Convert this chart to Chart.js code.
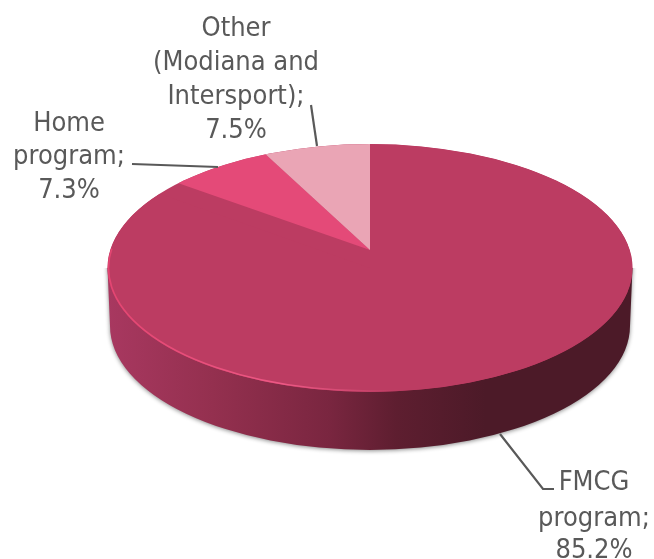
<!DOCTYPE html>
<html><head><meta charset="utf-8">
<style>html,body{margin:0;padding:0;background:#fff;overflow:hidden}canvas{display:block}</style>
<script src="https://cdn.jsdelivr.net/npm/chart.js@4/dist/chart.umd.min.js"></script>
</head><body>
<canvas id="c" width="654" height="559"></canvas>
<script>
const categories = ["FMCG program", "Home program", "Other (Modiana and Intersport)"];
const shares = [85.2, 7.3, 7.5];
const sliceColors = ["#BC3C62", "#E44A78", "#EAA5B5"];
const labelLines = [
  ["FMCG", "program;", "85.2%"],
  ["Home", "program;", "7.3%"],
  ["Other", "(Modiana and", "Intersport);", "7.5%"]
];
const topFace = {x:370, y:268, rx:262.5, ry:124};
const baseFace = {x:370, y:326, rx:260, ry:124};
const apexFace = {x:370, y:250, rx:272, ry:127};
const labelLayout = [
  {x:594, ys:[490,526,558]},
  {x:69,  ys:[131,164,198]},
  {x:236, ys:[36,70,104,138]}
];
const leaders = [
  [[500,434],[543,489],[554,489]],
  [[132,164],[218,167]],
  [[311,105],[317,146]]
];
const pie3d = {
  id:'pie3d',
  beforeDatasetsDraw(chart){
    const ctx = chart.ctx, arcs = chart.getDatasetMeta(0).data, a0 = arcs[0];
    const R = a0.outerRadius;
    const place = (t)=>{ ctx.translate(t.x,t.y); ctx.scale(t.rx/R,t.ry/R); ctx.translate(-a0.x,-a0.y); };
    // side wall
    ctx.save();
    ctx.beginPath(); ctx.rect(0,topFace.y,chart.width,chart.height-topFace.y); ctx.clip();
    ctx.beginPath();
    ctx.ellipse(baseFace.x,baseFace.y,baseFace.rx,baseFace.ry,0,0,Math.PI);
    ctx.lineTo(topFace.x-topFace.rx,topFace.y);
    ctx.ellipse(topFace.x,topFace.y,topFace.rx,topFace.ry,0,Math.PI,0,false);
    ctx.closePath();
    const g = ctx.createLinearGradient(topFace.x-topFace.rx,0,topFace.x+topFace.rx,0);
    g.addColorStop(0,'#A83860'); g.addColorStop(0.2,'#94304F'); g.addColorStop(0.42,'#7A2640');
    g.addColorStop(0.55,'#5E1E30'); g.addColorStop(0.72,'#4C1A28'); g.addColorStop(1,'#4C1A28');
    ctx.fillStyle = g;
    ctx.shadowColor = 'rgba(0,0,0,0.45)'; ctx.shadowBlur = 4; ctx.shadowOffsetY = 1;
    ctx.fill();
    ctx.restore();
    // top face backing and FMCG slice
    ctx.save();
    ctx.beginPath(); ctx.ellipse(topFace.x,topFace.y,topFace.rx,topFace.ry,0,0,Math.PI*2);
    ctx.fillStyle = sliceColors[0]; ctx.fill();
    ctx.clip();
    ctx.save(); place(topFace); a0.draw(ctx); ctx.restore();
    // the two small slices, seen with their tip pulled back
    for (let i=1;i<arcs.length;i++){ ctx.save(); place(apexFace); arcs[i].draw(ctx); ctx.restore(); }
    ctx.restore();
    // bevel highlight
    ctx.save();
    const h = ctx.createLinearGradient(topFace.x-topFace.rx,0,topFace.x+30,0);
    h.addColorStop(0,'rgba(232,70,115,0.9)'); h.addColorStop(0.6,'rgba(240,90,135,0.95)');
    h.addColorStop(1,'rgba(240,90,135,0)');
    ctx.strokeStyle = h; ctx.lineWidth = 1.6;
    ctx.beginPath();
    ctx.ellipse(topFace.x,topFace.y,topFace.rx-1,topFace.ry-1,0,Math.PI*0.45,Math.PI*1.05);
    ctx.stroke();
    ctx.restore();
    // leaders and labels
    ctx.save();
    ctx.strokeStyle = '#595959'; ctx.lineWidth = 2.2;
    leaders.forEach(l=>{ ctx.beginPath(); l.forEach((p,i)=> i?ctx.lineTo(p[0],p[1]):ctx.moveTo(p[0],p[1])); ctx.stroke(); });
    ctx.fillStyle = '#595959'; ctx.textAlign='center'; ctx.textBaseline='alphabetic';
    ctx.font = '27px "DejaVu Sans Condensed", "DejaVu Sans"';
    labelLines.forEach((ls,i)=> ls.forEach((s,j)=> ctx.fillText(s,labelLayout[i].x,labelLayout[i].ys[j])));
    ctx.restore();
    return false;
  }
};
new Chart(document.getElementById('c'),{
  type:'pie',
  data:{labels:categories,datasets:[{data:shares,backgroundColor:sliceColors,borderWidth:0}]},
  options:{responsive:false,animation:false,events:[],
    plugins:{legend:{display:false},tooltip:{enabled:false}}},
  plugins:[pie3d]
});
</script>
</body></html>
